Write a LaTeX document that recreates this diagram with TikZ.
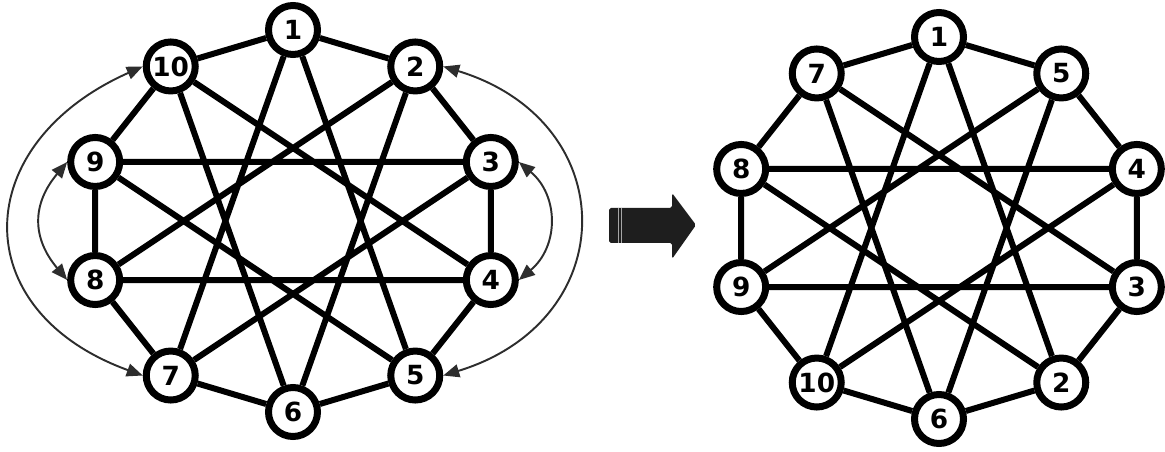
\documentclass[tikz,border=0pt]{standalone}
\usepackage{fontspec}
\setmainfont{DejaVu Sans}
\usepackage{tikz}
\usetikzlibrary{arrows.meta, backgrounds}
\definecolor{swapcol}{RGB}{45, 45, 45}
\definecolor{blockcol}{RGB}{30, 30, 30}

\begin{document}
\begin{tikzpicture}[
    vtx/.style={circle, draw=black, fill=white, line width=0.14cm, inner sep=0pt,
                minimum size=0.98cm, font=\bfseries\fontsize{15}{15}\selectfont},
    edge/.style={draw=black, line width=0.12cm},
    swaparr/.style={draw=swapcol, line width=1.1pt,
                    {Triangle[length=3.2mm, width=2.6mm]}-{Triangle[length=3.2mm, width=2.6mm]}}
  ]
  \useasboundingbox (-5.86,-4.62) rectangle (17.44,4.42);

  % Left graph
  \node[vtx] (a1) at (90:4.16 and 3.82) {1};
  \node[vtx] (a2) at (54:4.16 and 3.82) {2};
  \node[vtx] (a3) at (18:4.16 and 3.82) {3};
  \node[vtx] (a4) at (-18:4.16 and 3.82) {4};
  \node[vtx] (a5) at (-54:4.16 and 3.82) {5};
  \node[vtx] (a6) at (-90:4.16 and 3.82) {6};
  \node[vtx] (a7) at (-126:4.16 and 3.82) {7};
  \node[vtx] (a8) at (-162:4.16 and 3.82) {8};
  \node[vtx] (a9) at (162:4.16 and 3.82) {9};
  \node[vtx] (a10) at (126:4.16 and 3.82) {10};

  % Right graph
  \begin{scope}[shift={(12.92,-0.14)}]
    \node[vtx] (b1) at (90:4.16 and 3.82) {1};
    \node[vtx] (b5) at (54:4.16 and 3.82) {5};
    \node[vtx] (b4) at (18:4.16 and 3.82) {4};
    \node[vtx] (b3) at (-18:4.16 and 3.82) {3};
    \node[vtx] (b2) at (-54:4.16 and 3.82) {2};
    \node[vtx] (b6) at (-90:4.16 and 3.82) {6};
    \node[vtx] (b10) at (-126:4.16 and 3.82) {10};
    \node[vtx] (b9) at (-162:4.16 and 3.82) {9};
    \node[vtx] (b8) at (162:4.16 and 3.82) {8};
    \node[vtx] (b7) at (126:4.16 and 3.82) {7};
  \end{scope}

  \begin{scope}[on background layer]
    % Edges (left)
    \draw[edge] (a1) -- (a2) -- (a3) -- (a4) -- (a5) -- (a6) -- (a7) -- (a8) -- (a9) -- (a10) -- (a1);
    \draw[edge] (a1) -- (a5) (a2) -- (a6) (a3) -- (a7) (a4) -- (a8) (a5) -- (a9);
    \draw[edge] (a6) -- (a10) (a7) -- (a1) (a8) -- (a2) (a9) -- (a3) (a10) -- (a4);

    % Edges (right)
    \draw[edge] (b1) -- (b5) -- (b4) -- (b3) -- (b2) -- (b6) -- (b10) -- (b9) -- (b8) -- (b7) -- (b1);
    \draw[edge] (b1) -- (b2) (b5) -- (b6) (b4) -- (b10) (b3) -- (b9) (b2) -- (b8);
    \draw[edge] (b6) -- (b7) (b10) -- (b1) (b9) -- (b5) (b8) -- (b4) (b7) -- (b3);
  \end{scope}

  % Swap arrows
  \draw[swaparr] (a7.west) .. controls +(160:3.8) and +(204:3.8) .. (a10.west);
  \draw[swaparr] (a9.west) .. controls +(230:1.1) and +(130:1.1) .. (a8.west);
  \draw[swaparr] (a2.east) .. controls +(-17:3.77) and +(17:3.77) .. (a5.east);
  \draw[swaparr] (a3.east) .. controls +(-40:1.05) and +(40:1.05) .. (a4.east);

  % Block arrow
  \fill[blockcol, rounded corners=1pt] (6.32,0.26) -- (7.58,0.26) -- (7.58,0.56) -- (8.06,-0.08)
        -- (7.58,-0.76) -- (7.58,-0.44) -- (6.32,-0.44) -- cycle;
  \draw[gray!70, line width=0.5pt] (6.50,0.26) -- (6.50,-0.44);
  \draw[gray!70, line width=0.5pt] (6.57,0.26) -- (6.57,-0.44);
\end{tikzpicture}
\end{document}
